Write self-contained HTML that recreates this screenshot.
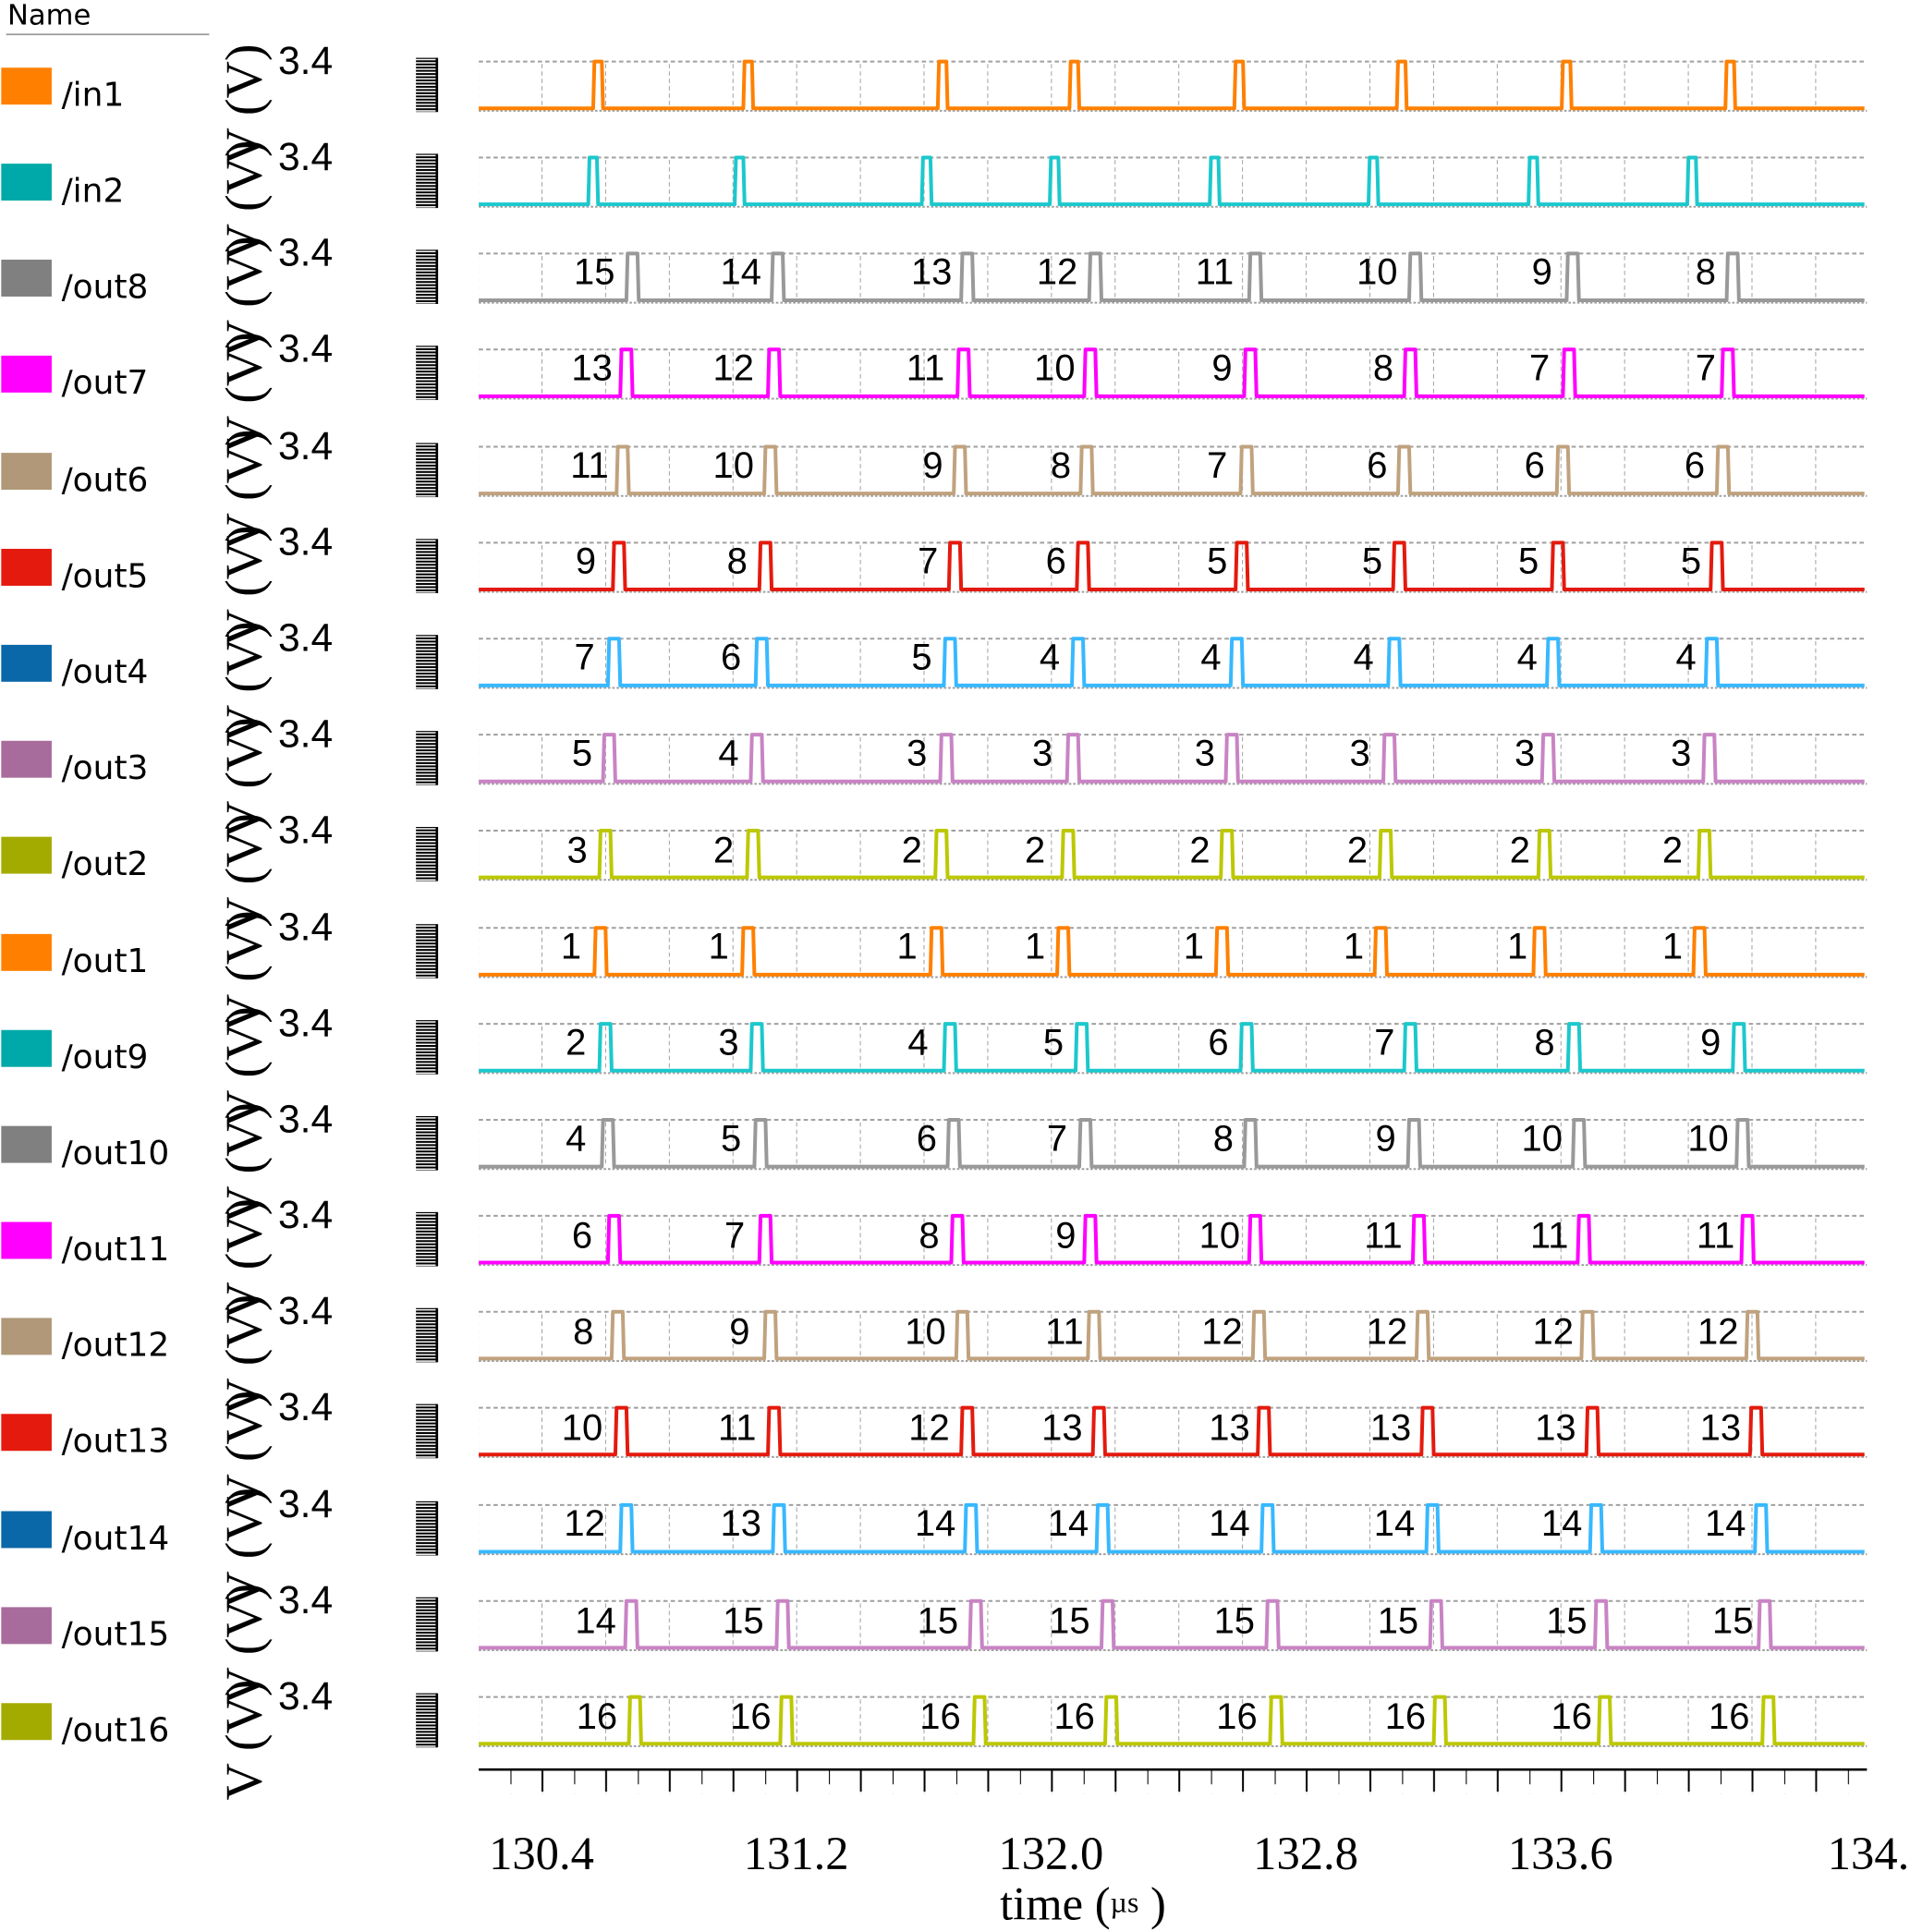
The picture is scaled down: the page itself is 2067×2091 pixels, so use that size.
<!DOCTYPE html>
<html><head><meta charset="utf-8"><style>html,body{margin:0;padding:0;background:#fff}svg{display:block}</style></head>
<body>
<svg xmlns="http://www.w3.org/2000/svg" width="2067" height="2091" viewBox="0 0 1552 1570" preserveAspectRatio="none">
<defs>
<pattern id="vg" patternUnits="userSpaceOnUse" x="440" y="0" width="51.75" height="6"><rect x="-0.6" y="0" width="1.3" height="3.5" fill="#9a9a9a"/></pattern>
<pattern id="tk" patternUnits="userSpaceOnUse" x="414.8" y="1438" width="51.75" height="20"><rect x="-0.7" y="0" width="1.5" height="12" fill="#000"/><rect x="25.2" y="0" width="1.5" height="18" fill="#000"/></pattern>
<pattern id="bc" patternUnits="userSpaceOnUse" x="0" y="0" width="20" height="2.6"><rect x="0" y="0" width="20" height="1.5" fill="#000"/></pattern>
<g id="row">
<line x1="389" y1="-38" x2="1517" y2="-38" stroke="#a0a0a0" stroke-width="1.5" stroke-dasharray="3.5 2.5"/>
<line x1="389" y1="2" x2="1517" y2="2" stroke="#a0a0a0" stroke-width="1.5" stroke-dasharray="2 1.5"/>
<rect x="389" y="-38" width="1128" height="38" fill="url(#vg)"/>
<rect x="338" y="-41" width="17" height="44" fill="url(#bc)"/>
<rect x="354" y="-41" width="2" height="44" fill="#000"/>
<text x="226" y="-28" font-family="Liberation Sans, sans-serif" font-size="32">3.4</text>
<text transform="translate(212,46) rotate(-90)" font-family="Liberation Serif, serif" font-size="42">V (V)</text>
</g>
</defs>

<text x="6" y="20" font-family="DejaVu Sans, sans-serif" font-size="23">Name</text>
<line x1="5" y1="28" x2="170" y2="28" stroke="#999" stroke-width="1.3"/>

<g font-family="DejaVu Sans, sans-serif" font-size="27" fill="#000">
<g transform="translate(0,88)"><rect x="1" y="-33" width="41" height="30" fill="#ff8000"/><text x="50" y="-2">/in1</text></g>
<g transform="translate(0,166)"><rect x="1" y="-33" width="41" height="30" fill="#00a9a9"/><text x="50" y="-2">/in2</text></g>
<g transform="translate(0,244)"><rect x="1" y="-33" width="41" height="30" fill="#808080"/><text x="50" y="-2">/out8</text></g>
<g transform="translate(0,322)"><rect x="1" y="-33" width="41" height="30" fill="#ff00ff"/><text x="50" y="-2">/out7</text></g>
<g transform="translate(0,401)"><rect x="1" y="-33" width="41" height="30" fill="#b09878"/><text x="50" y="-2">/out6</text></g>
<g transform="translate(0,479)"><rect x="1" y="-33" width="41" height="30" fill="#e41a0e"/><text x="50" y="-2">/out5</text></g>
<g transform="translate(0,557)"><rect x="1" y="-33" width="41" height="30" fill="#0a68a8"/><text x="50" y="-2">/out4</text></g>
<g transform="translate(0,635)"><rect x="1" y="-33" width="41" height="30" fill="#a86c9c"/><text x="50" y="-2">/out3</text></g>
<g transform="translate(0,713)"><rect x="1" y="-33" width="41" height="30" fill="#a4ab00"/><text x="50" y="-2">/out2</text></g>
<g transform="translate(0,792)"><rect x="1" y="-33" width="41" height="30" fill="#ff8000"/><text x="50" y="-2">/out1</text></g>
<g transform="translate(0,870)"><rect x="1" y="-33" width="41" height="30" fill="#00a9a9"/><text x="50" y="-2">/out9</text></g>
<g transform="translate(0,948)"><rect x="1" y="-33" width="41" height="30" fill="#808080"/><text x="50" y="-2">/out10</text></g>
<g transform="translate(0,1026)"><rect x="1" y="-33" width="41" height="30" fill="#ff00ff"/><text x="50" y="-2">/out11</text></g>
<g transform="translate(0,1104)"><rect x="1" y="-33" width="41" height="30" fill="#b09878"/><text x="50" y="-2">/out12</text></g>
<g transform="translate(0,1182)"><rect x="1" y="-33" width="41" height="30" fill="#e41a0e"/><text x="50" y="-2">/out13</text></g>
<g transform="translate(0,1261)"><rect x="1" y="-33" width="41" height="30" fill="#0a68a8"/><text x="50" y="-2">/out14</text></g>
<g transform="translate(0,1339)"><rect x="1" y="-33" width="41" height="30" fill="#a86c9c"/><text x="50" y="-2">/out15</text></g>
<g transform="translate(0,1417)"><rect x="1" y="-33" width="41" height="30" fill="#a4ab00"/><text x="50" y="-2">/out16</text></g>
</g>

<use href="#row" y="88"/><use href="#row" y="166"/><use href="#row" y="244"/><use href="#row" y="322"/>
<use href="#row" y="401"/><use href="#row" y="479"/><use href="#row" y="557"/><use href="#row" y="635"/>
<use href="#row" y="713"/><use href="#row" y="792"/><use href="#row" y="870"/><use href="#row" y="948"/>
<use href="#row" y="1026"/><use href="#row" y="1104"/><use href="#row" y="1182"/><use href="#row" y="1261"/>
<use href="#row" y="1339"/><use href="#row" y="1417"/>

<g fill="none" stroke-width="3" stroke-linejoin="round">
<path transform="translate(0,88)" stroke="#ff8000" d="M389 0H482L483 -38H489L490 0H604L605 -38H611L612 0H762L763 -38H769L770 0H869L870 -38H876L877 0H1003L1004 -38H1010L1011 0H1135L1136 -38H1142L1143 0H1269L1270 -38H1276L1277 0H1402L1403 -38H1409L1410 0H1515"/>
<path transform="translate(0,166)" stroke="#1cc8cc" d="M389 0H478L479 -38H485L486 0H597L598 -38H604L605 0H749L750 -38H756L757 0H853L854 -38H860L861 0H983L984 -38H990L991 0H1112L1113 -38H1119L1120 0H1242L1243 -38H1249L1250 0H1371L1372 -38H1378L1379 0H1515"/>
<path transform="translate(0,244)" stroke="#999" d="M389 0H509L510 -38H518L519 0H627L628 -38H636L637 0H781L782 -38H790L791 0H885L886 -38H894L895 0H1015L1016 -38H1024L1025 0H1145L1146 -38H1154L1155 0H1273L1274 -38H1282L1283 0H1403L1404 -38H1412L1413 0H1515"/>
<path transform="translate(0,322)" stroke="#ff00ff" d="M389 0H504L505 -38H513L514 0H624L625 -38H633L634 0H778L779 -38H787L788 0H881L882 -38H890L891 0H1011L1012 -38H1020L1021 0H1141L1142 -38H1150L1151 0H1270L1271 -38H1279L1280 0H1399L1400 -38H1408L1409 0H1515"/>
<path transform="translate(0,401)" stroke="#c0a27e" d="M389 0H501L502 -38H510L511 0H621L622 -38H630L631 0H775L776 -38H784L785 0H878L879 -38H887L888 0H1008L1009 -38H1017L1018 0H1136L1137 -38H1145L1146 0H1265L1266 -38H1274L1275 0H1395L1396 -38H1404L1405 0H1515"/>
<path transform="translate(0,479)" stroke="#e41a0e" d="M389 0H498L499 -38H507L508 0H617L618 -38H626L627 0H771L772 -38H780L781 0H875L876 -38H884L885 0H1004L1005 -38H1013L1014 0H1132L1133 -38H1141L1142 0H1261L1262 -38H1270L1271 0H1390L1391 -38H1399L1400 0H1515"/>
<path transform="translate(0,557)" stroke="#38b8ff" d="M389 0H494L495 -38H503L504 0H614L615 -38H623L624 0H767L768 -38H776L777 0H871L872 -38H880L881 0H1000L1001 -38H1009L1010 0H1128L1129 -38H1137L1138 0H1257L1258 -38H1266L1267 0H1386L1387 -38H1395L1396 0H1515"/>
<path transform="translate(0,635)" stroke="#c884c4" d="M389 0H490L491 -38H499L500 0H610L611 -38H619L620 0H764L765 -38H773L774 0H867L868 -38H876L877 0H996L997 -38H1005L1006 0H1124L1125 -38H1133L1134 0H1253L1254 -38H1262L1263 0H1384L1385 -38H1393L1394 0H1515"/>
<path transform="translate(0,713)" stroke="#bcc800" d="M389 0H487L488 -38H496L497 0H607L608 -38H616L617 0H760L761 -38H769L770 0H863L864 -38H872L873 0H992L993 -38H1001L1002 0H1121L1122 -38H1130L1131 0H1250L1251 -38H1259L1260 0H1380L1381 -38H1389L1390 0H1515"/>
<path transform="translate(0,792)" stroke="#ff8000" d="M389 0H483L484 -38H492L493 0H603L604 -38H612L613 0H756L757 -38H765L766 0H859L860 -38H868L869 0H988L989 -38H997L998 0H1117L1118 -38H1126L1127 0H1246L1247 -38H1255L1256 0H1376L1377 -38H1385L1386 0H1515"/>
<path transform="translate(0,870)" stroke="#1cc8cc" d="M389 0H487L488 -38H496L497 0H610L611 -38H619L620 0H767L768 -38H776L777 0H874L875 -38H883L884 0H1008L1009 -38H1017L1018 0H1141L1142 -38H1150L1151 0H1274L1275 -38H1283L1284 0H1408L1409 -38H1417L1418 0H1515"/>
<path transform="translate(0,948)" stroke="#999" d="M389 0H489L490 -38H498L499 0H613L614 -38H622L623 0H770L771 -38H779L780 0H877L878 -38H886L887 0H1011L1012 -38H1020L1021 0H1144L1145 -38H1153L1154 0H1278L1279 -38H1287L1288 0H1411L1412 -38H1420L1421 0H1515"/>
<path transform="translate(0,1026)" stroke="#ff00ff" d="M389 0H494L495 -38H503L504 0H617L618 -38H626L627 0H773L774 -38H782L783 0H881L882 -38H890L891 0H1015L1016 -38H1024L1025 0H1148L1149 -38H1157L1158 0H1282L1283 -38H1291L1292 0H1415L1416 -38H1424L1425 0H1515"/>
<path transform="translate(0,1104)" stroke="#c0a27e" d="M389 0H497L498 -38H506L507 0H621L622 -38H630L631 0H777L778 -38H786L787 0H884L885 -38H893L894 0H1018L1019 -38H1027L1028 0H1151L1152 -38H1160L1161 0H1285L1286 -38H1294L1295 0H1419L1420 -38H1428L1429 0H1515"/>
<path transform="translate(0,1182)" stroke="#e41a0e" d="M389 0H500L501 -38H509L510 0H624L625 -38H633L634 0H781L782 -38H790L791 0H888L889 -38H897L898 0H1022L1023 -38H1031L1032 0H1155L1156 -38H1164L1165 0H1289L1290 -38H1298L1299 0H1422L1423 -38H1431L1432 0H1515"/>
<path transform="translate(0,1261)" stroke="#38b8ff" d="M389 0H504L505 -38H513L514 0H628L629 -38H637L638 0H784L785 -38H793L794 0H891L892 -38H900L901 0H1025L1026 -38H1034L1035 0H1159L1160 -38H1168L1169 0H1292L1293 -38H1301L1302 0H1426L1427 -38H1435L1436 0H1515"/>
<path transform="translate(0,1339)" stroke="#c884c4" d="M389 0H508L509 -38H517L518 0H631L632 -38H640L641 0H788L789 -38H797L798 0H895L896 -38H904L905 0H1029L1030 -38H1038L1039 0H1162L1163 -38H1171L1172 0H1296L1297 -38H1305L1306 0H1429L1430 -38H1438L1439 0H1515"/>
<path transform="translate(0,1417)" stroke="#bcc800" d="M389 0H511L512 -38H520L521 0H634L635 -38H643L644 0H791L792 -38H800L801 0H898L899 -38H907L908 0H1032L1033 -38H1041L1042 0H1165L1166 -38H1174L1175 0H1299L1300 -38H1308L1309 0H1432L1433 -38H1441L1442 0H1515"/>
</g>

<g font-family="Liberation Sans, sans-serif" font-size="30" fill="#000" text-anchor="middle">
<g transform="translate(0,231)"><text x="483">15</text><text x="602">14</text><text x="757">13</text><text x="859">12</text><text x="987">11</text><text x="1119">10</text><text x="1253">9</text><text x="1386">8</text></g>
<g transform="translate(0,309)"><text x="481">13</text><text x="596">12</text><text x="752">11</text><text x="857">10</text><text x="993">9</text><text x="1124">8</text><text x="1251">7</text><text x="1386">7</text></g>
<g transform="translate(0,388)"><text x="479">11</text><text x="596">10</text><text x="758">9</text><text x="862">8</text><text x="989">7</text><text x="1119">6</text><text x="1247">6</text><text x="1377">6</text></g>
<g transform="translate(0,466)"><text x="476">9</text><text x="599">8</text><text x="754">7</text><text x="858">6</text><text x="989">5</text><text x="1115">5</text><text x="1242">5</text><text x="1374">5</text></g>
<g transform="translate(0,544)"><text x="475">7</text><text x="594">6</text><text x="749">5</text><text x="853">4</text><text x="984">4</text><text x="1108">4</text><text x="1241">4</text><text x="1370">4</text></g>
<g transform="translate(0,622)"><text x="473">5</text><text x="592">4</text><text x="745">3</text><text x="847">3</text><text x="979">3</text><text x="1105">3</text><text x="1239">3</text><text x="1366">3</text></g>
<g transform="translate(0,701)"><text x="469">3</text><text x="588">2</text><text x="741">2</text><text x="841">2</text><text x="975">2</text><text x="1103">2</text><text x="1235">2</text><text x="1359">2</text></g>
<g transform="translate(0,779)"><text x="464">1</text><text x="584">1</text><text x="737">1</text><text x="841">1</text><text x="970">1</text><text x="1100">1</text><text x="1233">1</text><text x="1359">1</text></g>
<g transform="translate(0,857)"><text x="468">2</text><text x="592">3</text><text x="746">4</text><text x="856">5</text><text x="990">6</text><text x="1125">7</text><text x="1255">8</text><text x="1390">9</text></g>
<g transform="translate(0,935)"><text x="468">4</text><text x="594">5</text><text x="753">6</text><text x="859">7</text><text x="994">8</text><text x="1126">9</text><text x="1253">10</text><text x="1388">10</text></g>
<g transform="translate(0,1014)"><text x="473">6</text><text x="597">7</text><text x="755">8</text><text x="866">9</text><text x="991">10</text><text x="1124">11</text><text x="1259">11</text><text x="1394">11</text></g>
<g transform="translate(0,1092)"><text x="474">8</text><text x="601">9</text><text x="752">10</text><text x="865">11</text><text x="993">12</text><text x="1127">12</text><text x="1262">12</text><text x="1396">12</text></g>
<g transform="translate(0,1170)"><text x="473">10</text><text x="599">11</text><text x="755">12</text><text x="863">13</text><text x="999">13</text><text x="1130">13</text><text x="1264">13</text><text x="1398">13</text></g>
<g transform="translate(0,1248)"><text x="475">12</text><text x="602">13</text><text x="760">14</text><text x="868">14</text><text x="999">14</text><text x="1133">14</text><text x="1269">14</text><text x="1402">14</text></g>
<g transform="translate(0,1327)"><text x="484">14</text><text x="604">15</text><text x="762">15</text><text x="869">15</text><text x="1003">15</text><text x="1136">15</text><text x="1273">15</text><text x="1408">15</text></g>
<g transform="translate(0,1405)"><text x="485">16</text><text x="610">16</text><text x="764">16</text><text x="873">16</text><text x="1005">16</text><text x="1142">16</text><text x="1277">16</text><text x="1405">16</text></g>
</g>

<line x1="389" y1="1438" x2="1517" y2="1438" stroke="#000" stroke-width="2"/>
<rect x="405" y="1438" width="1108" height="20" fill="url(#tk)"/>

<g font-family="Liberation Serif, serif" font-size="38" fill="#000" text-anchor="middle">
<text x="440" y="1519">130.4</text>
<text x="647" y="1519">131.2</text>
<text x="854" y="1519">132.0</text>
<text x="1061" y="1519">132.8</text>
<text x="1268" y="1519">133.6</text>
<text x="1485" y="1519" text-anchor="start">134.</text>
<text x="880" y="1560">time (<tspan font-size="24" dy="-6">µs</tspan><tspan dy="6"> )</tspan></text>
</g>
</svg>
</body></html>
